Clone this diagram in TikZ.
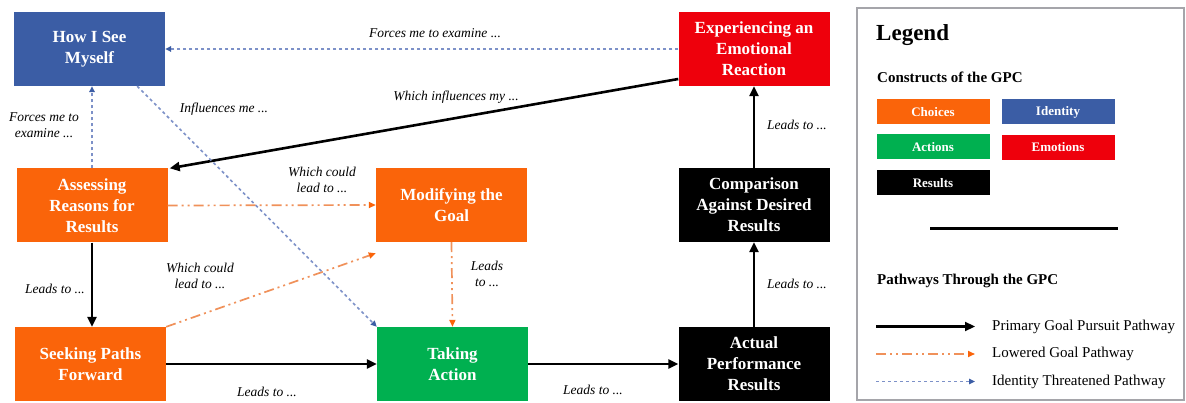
\documentclass[tikz,border=0pt]{standalone}
\usepackage{fontspec}
\setmainfont{Liberation Serif}
\usetikzlibrary{arrows.meta}

\definecolor{idblue}{RGB}{59,93,165}
\definecolor{emored}{RGB}{238,0,12}
\definecolor{choiceorange}{RGB}{250,100,10}
\definecolor{actgreen}{RGB}{0,176,80}
\definecolor{dotblue}{RGB}{125,145,200}
\definecolor{dashorange}{RGB}{240,145,90}
\definecolor{framegray}{RGB}{165,165,170}

\tikzset{
  construct/.style={fill=#1, text=white, align=center, inner sep=0pt,
    minimum width=151pt, minimum height=74pt,
    font=\bfseries\fontsize{17}{21}\selectfont},
  swatch/.style={fill=#1, text=white, inner sep=0pt,
    minimum width=113pt, minimum height=25pt,
    font=\bfseries\fontsize{13}{15}\selectfont},
  steplabel/.style={align=center, inner sep=1pt,
    font=\itshape\fontsize{13.5}{16}\selectfont},
  primary/.style={draw=black, line width=2.6pt,
    -{Triangle[length=10pt,width=9pt]}},
  lowered/.style={draw=dashorange, line width=1.7pt,
    dash pattern=on 10pt off 4pt on 2pt off 4pt on 2pt off 4pt,
    -{Triangle[length=7pt,width=6pt,fill=choiceorange,color=choiceorange]}},
  threatened/.style={draw=dotblue, line width=1.6pt,
    dash pattern=on 3pt off 3pt,
    -{Triangle[length=6pt,width=5.5pt,fill=idblue,color=idblue]}},
  legendtext/.style={anchor=west, inner sep=0pt,
    font=\fontsize{15}{17}\selectfont},
}

\begin{document}
\begin{tikzpicture}[x=1pt,y=-1pt]
\useasboundingbox[fill=white] (0,0) rectangle (1186,403);

% constructs
\node[construct=idblue]       (self)    at (89.5,49)   {How I See\\Myself};
\node[construct=emored]       (emo)     at (754,49)    {Experiencing an\\Emotional\\Reaction};
\node[construct=choiceorange] (assess)  at (92,205.5)  {Assessing\\Reasons for\\Results};
\node[construct=choiceorange] (modify)  at (451.5,205) {Modifying the\\Goal};
\node[construct=black]        (compare) at (754,205)   {Comparison\\Against Desired\\Results};
\node[construct=choiceorange] (seek)    at (90.5,364)  {Seeking Paths\\Forward};
\node[construct=actgreen]     (take)    at (452.5,364) {Taking\\Action};
\node[construct=black]        (actual)  at (754,364)   {Actual\\Performance\\Results};

% primary goal pursuit pathway
\draw[primary] ([yshift=-30pt]emo.west) -- ([xshift=2pt]assess.north east);
\draw[primary] (assess.south) -- (assess.south |- seek.north);
\draw[primary] (seek.east) -- (take.west);
\draw[primary] (take.east) -- (actual.west);
\draw[primary] (actual.north) -- (compare.south);
\draw[primary] (compare.north) -- (emo.south);

% lowered goal pathway
\draw[lowered] (assess.east) -- (modify.west);
\draw[lowered] (seek.north east) -- ([yshift=-11pt]modify.south west);
\draw[lowered] (modify.south) -- (take.north);

% identity threatened pathway
\draw[threatened] (emo.west) -- (self.east);
\draw[threatened] (assess.north) -- (assess.north |- self.south);
\draw[threatened] ([xshift=-28pt]self.south east) -- (take.north west);

% connector labels
\node[steplabel] (l1)  at (435,33)    {Forces me to examine ...};
\node[steplabel] (l2)  at (456,97)    {Which influences my ...};
\node[steplabel] (l3)  at (44,125)    {Forces me to\\examine ...};
\node[steplabel] (l4)  at (224,109)   {Influences me ...};
\node[steplabel] (l5)  at (322,180)   {Which could\\lead to ...};
\node[steplabel] (l6)  at (200,276)   {Which could\\lead to ...};
\node[steplabel] (l7)  at (55,289)    {Leads to ...};
\node[steplabel] (l8)  at (487,273.5) {Leads\\to ...};
\node[steplabel] (l9)  at (267,392)   {Leads to ...};
\node[steplabel] (l10) at (593,390)   {Leads to ...};
\node[steplabel] (l11) at (797,284)   {Leads to ...};
\node[steplabel] (l12) at (797,125)   {Leads to ...};

% legend
\draw[framegray, line width=1.2pt] (857,8) rectangle (1184,400);
\node[anchor=west, inner sep=0pt, font=\bfseries\fontsize{23}{25}\selectfont]
  (legtitle) at (876,35) {Legend};
\node[anchor=west, inner sep=0pt, font=\bfseries\fontsize{15}{17}\selectfont]
  (legcons) at (877,77) {Constructs of the GPC};
\node[swatch=choiceorange] (swchoice) at (933,112)    {Choices};
\node[swatch=idblue]       (swident)  at (1058,112)   {Identity};
\node[swatch=actgreen]     (swaction) at (933,147)    {Actions};
\node[swatch=emored]       (swemo)    at (1058,147.5) {Emotions};
\node[swatch=black]        (swresult) at (933,183)    {Results};
\draw[black, line width=3pt] (930,229) -- (1118,229);
\node[anchor=west, inner sep=0pt, font=\bfseries\fontsize{15}{17}\selectfont]
  (legpath) at (877,281) {Pathways Through the GPC};

\coordinate (pa) at (876,326.5);  \coordinate (pb) at (975,326.5);
\coordinate (la) at (876,354);    \coordinate (lb) at (975,354);
\coordinate (ia) at (876,381.5);  \coordinate (ib) at (975,381.5);
\draw[primary, line width=2.2pt] (pa) -- (pb);
\draw[lowered] (la) -- (lb);
\draw[threatened] (ia) -- (ib);
\node[legendtext] (tprim) at (992,326.5) {Primary Goal Pursuit Pathway};
\node[legendtext] (tlow)  at (992,354)   {Lowered Goal Pathway};
\node[legendtext] (tid)   at (992,381.5) {Identity Threatened Pathway};
\end{tikzpicture}
\end{document}
